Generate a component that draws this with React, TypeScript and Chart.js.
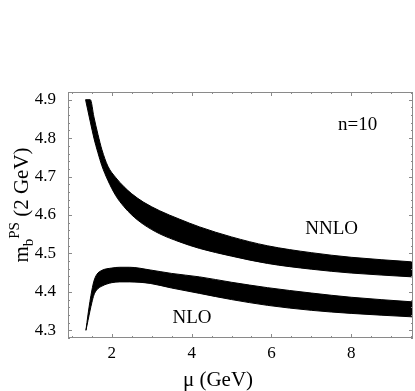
import React, { useEffect, useRef } from 'react';
import { Chart, registerables } from 'chart.js';

Chart.register(...registerables);

// NNLO band (mu in GeV, m_b^PS(2 GeV) in GeV)
const nnloMu = [1.34, 1.46, 1.55, 1.65, 1.75, 1.9, 2.1, 2.3, 2.5, 2.8, 3.2, 3.7, 4.2, 5.0, 5.9, 7.0, 8.0, 9.54];
const nnloUpper = [4.90, 4.90, 4.855, 4.81, 4.77, 4.727, 4.697, 4.674, 4.655, 4.633, 4.611, 4.589, 4.569, 4.543, 4.52, 4.502, 4.49, 4.478];
const nnloLower = [4.90, 4.842, 4.80, 4.762, 4.728, 4.69, 4.65, 4.622, 4.60, 4.575, 4.551, 4.53, 4.513, 4.493, 4.474, 4.459, 4.449, 4.439];

// NLO band
const nloMu = [1.35, 1.4, 1.45, 1.5, 1.55, 1.62, 1.75, 2.0, 2.2, 2.45, 2.96, 3.5, 4.2, 5.0, 5.9, 7.0, 8.0, 9.54];
const nloUpper = [4.30, 4.34, 4.375, 4.405, 4.428, 4.445, 4.456, 4.462, 4.464, 4.464, 4.457, 4.448, 4.439, 4.425, 4.411, 4.397, 4.386, 4.374];
const nloLower = [4.30, 4.325, 4.35, 4.373, 4.392, 4.405, 4.415, 4.424, 4.426, 4.426, 4.422, 4.41, 4.396, 4.38, 4.365, 4.352, 4.344, 4.335];

const xTicks = [2, 4, 6, 8];
const yTicks = [4.3, 4.4, 4.5, 4.6, 4.7, 4.8, 4.9];

const labelTexts = ['n=10', 'NNLO', 'NLO'];
const labelMu = [8.16, 7.51, 4.01];
const labelVal = [4.835, 4.563, 4.331];

const SERIF = '"Liberation Serif", "Times New Roman", serif';

function pts(mu: number[], v: number[]) {
  return mu.map((m, i) => ({ x: m, y: v[i] }));
}

const decor = {
  id: 'decor',
  afterDatasetsDraw(chart: any) {
    const { ctx, chartArea: a, scales } = chart;
    const x = scales.x;
    const y = scales.y;
    ctx.save();
    // frame
    ctx.strokeStyle = '#8a8a8a';
    ctx.lineWidth = 1;
    ctx.strokeRect(a.left + 0.5, a.top + 0.5, a.right - a.left - 1, a.bottom - a.top - 1);
    // ticks (inward)
    ctx.beginPath();
    for (let k = 2; k <= 19; k++) {
      const v = k * 0.5;
      const px = Math.round(x.getPixelForValue(v)) + 0.5;
      const len = k % 4 === 0 ? 4 : 2;
      ctx.moveTo(px, a.bottom);
      ctx.lineTo(px, a.bottom - len);
      ctx.moveTo(px, a.top);
      ctx.lineTo(px, a.top + len);
    }
    for (let k = 0; k <= 31; k++) {
      const v = 4.28 + k * 0.02;
      if (v > 4.921) break;
      const py = Math.round(y.getPixelForValue(v)) + 0.5;
      const len = k % 5 === 1 ? 4 : 2;
      ctx.moveTo(a.left, py);
      ctx.lineTo(a.left + len, py);
      ctx.moveTo(a.right, py);
      ctx.lineTo(a.right - len, py);
    }
    ctx.stroke();

    // annotations
    ctx.fillStyle = '#000';
    ctx.font = '19px ' + SERIF;
    ctx.textAlign = 'center';
    ctx.textBaseline = 'middle';
    for (let i = 0; i < labelTexts.length; i++) {
      ctx.fillText(labelTexts[i], x.getPixelForValue(labelMu[i]), y.getPixelForValue(labelVal[i]));
    }

    // x title
    ctx.font = '21px ' + SERIF;
    ctx.textBaseline = 'alphabetic';
    ctx.fillText('\u03bc (GeV)', 218, 386);

    // y title with subscript / superscript
    ctx.translate(28, 205);
    ctx.rotate(-Math.PI / 2);
    const big = '21px ' + SERIF;
    const small = '15px ' + SERIF;
    const parts = [
      { t: 'm', f: big, dy: 0 },
      { t: 'b', f: small, dy: 5 },
      { t: 'PS', f: small, dy: -9 },
      { t: ' (2 GeV)', f: big, dy: 0 },
    ];
    const widths: number[] = [];
    let total = 0;
    parts.forEach((p) => {
      ctx.font = p.f;
      const w = ctx.measureText(p.t).width;
      widths.push(w);
      total += w;
    });
    let cx = -total / 2;
    ctx.textAlign = 'left';
    parts.forEach((p, i) => {
      ctx.font = p.f;
      ctx.fillText(p.t, cx, p.dy);
      cx += widths[i];
    });
    ctx.restore();
  },
};

export default function App() {
  const ref = useRef<HTMLCanvasElement | null>(null);
  useEffect(() => {
    document.body.style.margin = '0';
    const canvas = ref.current;
    if (!canvas) return;
    const tickFont = { family: SERIF, size: 17 };
    const edge = {
      showLine: true,
      borderColor: '#000',
      backgroundColor: '#000',
      borderWidth: 1,
      pointRadius: 0,
      cubicInterpolationMode: 'monotone',
    };
    const chart = new Chart(canvas, {
      type: 'scatter',
      data: {
        datasets: [
          { ...edge, data: pts(nnloMu, nnloUpper), fill: false },
          { ...edge, data: pts(nnloMu, nnloLower), fill: '-1' },
          { ...edge, data: pts(nloMu, nloUpper), fill: false },
          { ...edge, data: pts(nloMu, nloLower), fill: '-1' },
        ],
      } as any,
      options: {
        animation: false,
        responsive: false,
        devicePixelRatio: 1,
        layout: { padding: { top: 92, right: 2, left: 0, bottom: 0 } },
        plugins: { legend: { display: false }, tooltip: { enabled: false } },
        scales: {
          x: {
            type: 'linear',
            min: 0.9,
            max: 9.55,
            grid: { display: false, drawTicks: false },
            border: { display: false },
            ticks: { font: tickFont, color: '#000', padding: 5, maxRotation: 0, autoSkip: false },
            afterBuildTicks: (s: any) => {
              s.ticks = xTicks.map((v) => ({ value: v }));
            },
            afterFit: (s: any) => {
              s.height = 53;
            },
          },
          y: {
            type: 'linear',
            min: 4.28,
            max: 4.92,
            grid: { display: false, drawTicks: false },
            border: { display: false },
            ticks: {
              font: tickFont,
              color: '#000',
              padding: 12,
              autoSkip: false,
              callback: (v: any) => Number(v).toFixed(1),
            },
            afterBuildTicks: (s: any) => {
              s.ticks = yTicks.map((v) => ({ value: v }));
            },
            afterFit: (s: any) => {
              s.width = 68;
            },
          },
        },
      } as any,
      plugins: [decor],
    });
    return () => chart.destroy();
  }, []);
  return (
    <canvas
      ref={ref}
      width={415}
      height={391}
      style={{ position: 'absolute', left: 0, top: 0, width: 415, height: 391 }}
    />
  );
}
